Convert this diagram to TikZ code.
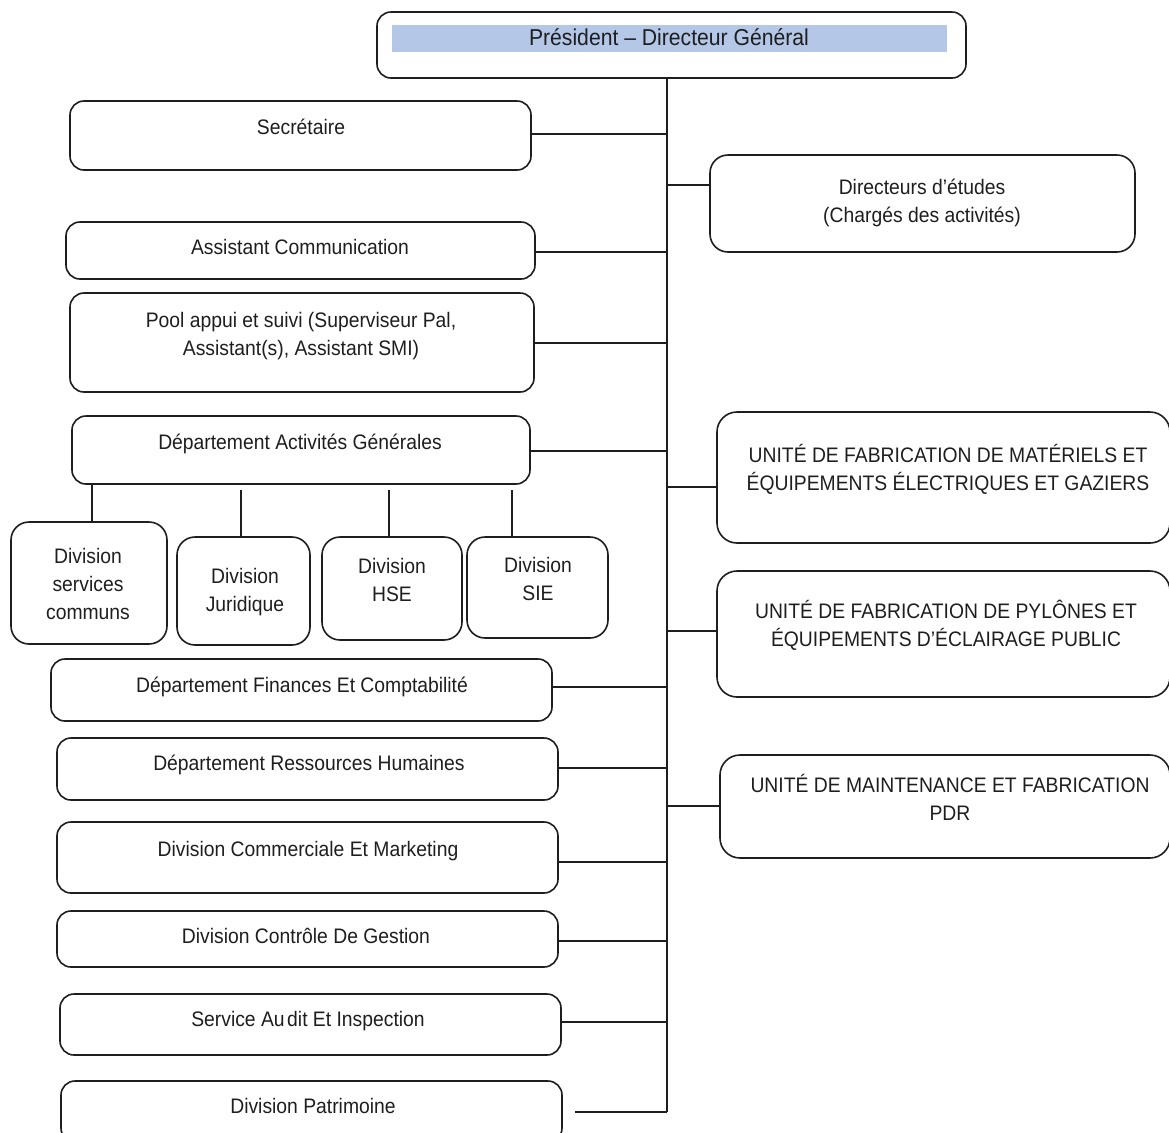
\documentclass[tikz,border=0pt]{standalone}
\usepackage{fontspec}
\setmainfont{Liberation Sans}[FakeStretch=0.92]
\usetikzlibrary{fit}
\definecolor{band}{RGB}{180,199,231}
\definecolor{ink}{RGB}{30,30,30}
\begin{document}
\begin{tikzpicture}[x=0.5pt,y=-0.5pt,
  box/.style={draw=ink, line width=0.8pt, rounded corners=7pt, inner sep=0pt},
  lbl/.style={font=\fontsize{10.5}{14}\selectfont, text=ink, align=center, inner sep=0pt},
  one/.style={lbl, text height=7.5pt, text depth=0pt},
  link/.style={draw=ink, line width=0.8pt}]
\useasboundingbox (0,0) rectangle (1169,1132);
\clip (0,0) rectangle (1169,1132);

% top
\node[box, fit={(377,12)(966,78)}] (pres) {};
\node[fill=band, inner sep=0pt, fit={(392,25)(947,52)}] (band) {};
\node[one, font=\fontsize{11.5}{14}\selectfont, text height=8.2pt] (presT) at (669,37) {Président – Directeur Général};

% left column
\node[box, fit={(70,101)(531,170)}] (sec) {};
\node[one] (secT) at (301,127) {Secrétaire};

\node[box, fit={(66,222)(535,279)}] (acom) {};
\node[one] (acomT) at (300,247) {Assistant Communication};

\node[box, fit={(70,293)(534,392)}] (pool) {};
\node[lbl] (poolT) at (301,336) {Pool appui et suivi (Superviseur Pal,\\Assistant(s), Assistant SMI)};

\node[box, fit={(72,416)(530,484)}] (dag) {};
\node[one] (dagT) at (300,442) {Département Activités Générales};

\node[box, rounded corners=9pt, fit={(11,522)(167,644)}] (dsc) {};
\node[lbl] (dscT) at (88,584) {Division\\services\\communs};
\node[box, rounded corners=9pt, fit={(177,537)(310,645)}] (jur) {};
\node[lbl] (jurT) at (245,592) {Division\\Juridique};
\node[box, rounded corners=9pt, fit={(322,537)(462,640)}] (hse) {};
\node[lbl] (hseT) at (392,580) {Division\\HSE};
\node[box, rounded corners=9pt, fit={(467,537)(608,638)}] (sie) {};
\node[lbl] (sieT) at (538,579) {Division\\SIE};

\node[box, fit={(51,659)(552,721)}] (fin) {};
\node[one] (finT) at (302,685) {Département Finances Et Comptabilité};

\node[box, fit={(57,738)(558,800)}] (rh) {};
\node[one] (rhT) at (309,763) {Département Ressources Humaines};

\node[box, fit={(57,822)(558,893)}] (com) {};
\node[one] (comT) at (308,849) {Division Commerciale Et Marketing};

\node[box, fit={(57,911)(558,967)}] (ctl) {};
\node[one] (ctlT) at (306,936) {Division Contrôle De Gestion};

\node[box, fit={(60,994)(561,1055)}] (aud) {};
\node[one] (audT) at (308,1019) {Service Au\hspace{0.12em}dit Et Inspection};

\node[box, fit={(61,1081)(562,1142)}] (pat) {};
\node[one] (patT) at (313,1106) {Division Patrimoine};

% right column
\node[box, rounded corners=9pt, fit={(710,155)(1135,252)}] (dir) {};
\node[lbl] (dirT) at (922,203) {Directeurs d’études\\(Chargés des activités)};

\node[box, rounded corners=10pt, fit={(717,412)(1170,543)}] (u1) {};
\node[lbl] (u1T) at (948,469) {UNITÉ DE FABRICATION DE MATÉRIELS ET\\ÉQUIPEMENTS ÉLECTRIQUES ET GAZIERS};

\node[box, rounded corners=10pt, fit={(717,571)(1170,697)}] (u2) {};
\node[lbl] (u2T) at (946,625) {UNITÉ DE FABRICATION DE PYLÔNES ET\\ÉQUIPEMENTS D'ÉCLAIRAGE PUBLIC};

\node[box, rounded corners=10pt, fit={(720,755)(1170,858)}] (u3) {};
\node[lbl] (u3T) at (950,797) {UNITÉ DE MAINTENANCE ET FABRICATION\\PDR};

% trunk
\coordinate (bot) at (667,1112);
\draw[link] (pres.south -| bot) -- (bot);

% left connectors
\coordinate (jSec) at (667,134);  \draw[link] (jSec) -- (sec.east |- jSec);
\coordinate (jAcom) at (667,252); \draw[link] (jAcom) -- (acom.east |- jAcom);
\coordinate (jPool) at (667,343); \draw[link] (jPool) -- (pool.east |- jPool);
\coordinate (jDag) at (667,451);  \draw[link] (jDag) -- (dag.east |- jDag);
\coordinate (jFin) at (667,687);  \draw[link] (jFin) -- (fin.east |- jFin);
\coordinate (jRh) at (667,768);   \draw[link] (jRh) -- (rh.east |- jRh);
\coordinate (jCom) at (667,862);  \draw[link] (jCom) -- (com.east |- jCom);
\coordinate (jCtl) at (667,941);  \draw[link] (jCtl) -- (ctl.east |- jCtl);
\coordinate (jAud) at (667,1022); \draw[link] (jAud) -- (aud.east |- jAud);
\coordinate (pEnd) at (575,1112); \draw[link] (bot) -- (pEnd);

% right connectors
\coordinate (jDir) at (667,185); \draw[link] (jDir) -- (dir.west |- jDir);
\coordinate (jU1) at (667,487);  \draw[link] (jU1) -- (u1.west |- jU1);
\coordinate (jU2) at (667,631);  \draw[link] (jU2) -- (u2.west |- jU2);
\coordinate (jU3) at (667,806);  \draw[link] (jU3) -- (u3.west |- jU3);

% divisions under DAG
\coordinate (s1) at (92,484);  \draw[link] (s1) -- (s1 |- dsc.north);
\coordinate (s2) at (241,490); \draw[link] (s2) -- (s2 |- jur.north);
\coordinate (s3) at (389,490); \draw[link] (s3) -- (s3 |- hse.north);
\coordinate (s4) at (512,490); \draw[link] (s4) -- (s4 |- sie.north);
\end{tikzpicture}
\end{document}
